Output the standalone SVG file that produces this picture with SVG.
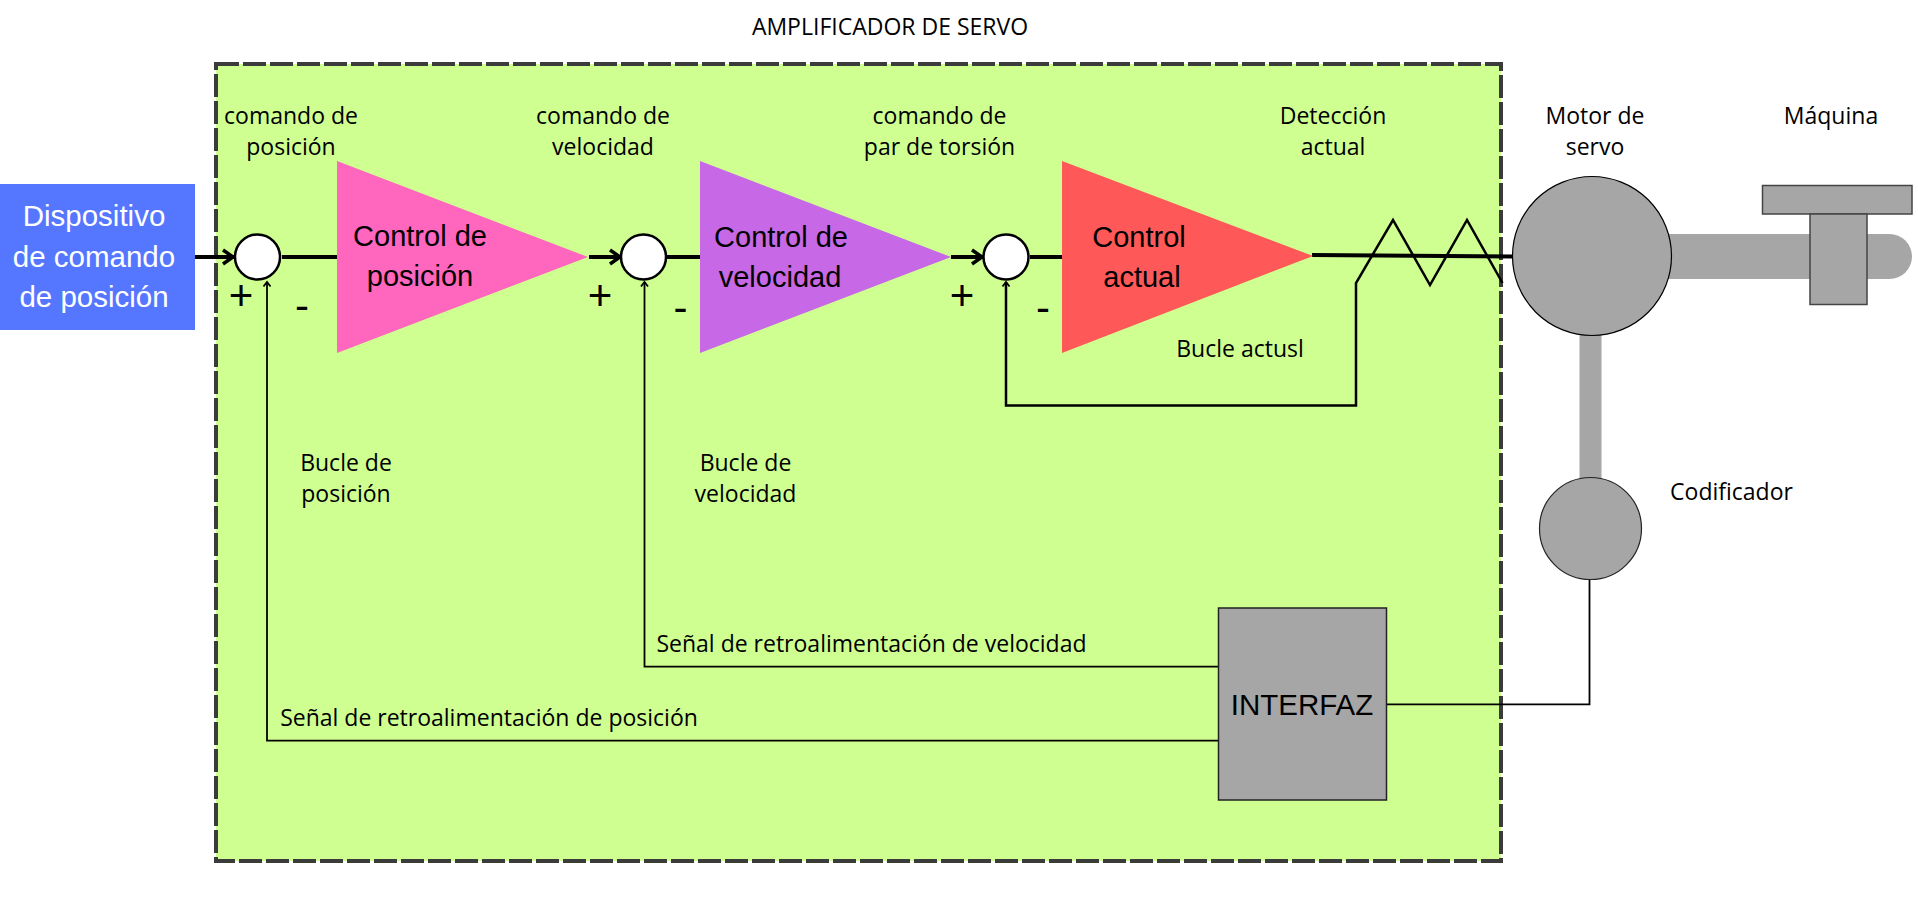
<svg xmlns="http://www.w3.org/2000/svg" width="1918" height="907" viewBox="0 0 1918 907">
<defs>
<style>
text{font-family:"Open Sans","Noto Sans",sans-serif;font-size:23px;fill:#000;text-anchor:middle}
.a{font-family:"Liberation Sans",Arial,sans-serif;font-size:29px}
.w{font-family:"Liberation Sans",Arial,sans-serif;font-size:29.500px;fill:#fff}
.i{font-family:"Liberation Sans",Arial,sans-serif;font-size:29.500px}
.s{font-family:"Liberation Sans",Arial,sans-serif;font-size:42px}
.thick{fill:none;stroke:#000;stroke-width:4}
.thin{fill:none;stroke:#000;stroke-width:1.800}
.gray{fill:#a6a6a6}
.sum{fill:#fff;stroke:#000;stroke-width:2.500}
</style>
<marker id="big" markerUnits="userSpaceOnUse" markerWidth="16" markerHeight="20" refX="14" refY="10" orient="auto"><path d="M3 3L13 10L3 17" fill="none" stroke="#000" stroke-width="3.500"/></marker>
<marker id="small" markerUnits="userSpaceOnUse" markerWidth="10" markerHeight="10" refX="8" refY="5" orient="auto"><path d="M3.500 1.500L8 5L3.500 8.500" fill="none" stroke="#000" stroke-width="1.800"/></marker>
</defs>
<g id="amplifier"><rect x="216" y="64" width="1285" height="797" fill="#cfff91" stroke="#3b3b3b" stroke-width="4" stroke-dasharray="23 4"/><text x="890" y="35">AMPLIFICADOR DE SERVO</text></g>
<g id="mechanics">
<path class="gray" d="M1650 234H1889.500A22.500 22.500 0 0 1 1889.500 279H1650Z"/>
<rect class="gray" x="1579.500" y="320" width="22" height="165"/>
</g>
<g id="connectors">
<path class="thick" d="M195 257H234" marker-end="url(#big)"/>
<path class="thick" d="M282 257H337"/>
<path class="thick" d="M589 257H621" marker-end="url(#big)"/>
<path class="thick" d="M667 257H700"/>
<path class="thick" d="M951 257H983" marker-end="url(#big)"/>
<path class="thick" d="M1030 257H1062"/>
<path class="thick" d="M1312 255L1513 256.500"/>
<path fill="none" stroke="#000" stroke-width="2.500" d="M1502.500 283L1467 220L1430 285L1393 220L1356 283V405.500H1006V282" marker-end="url(#small)"/>
<path class="thin" d="M1218 666.700H644.500V282" marker-end="url(#small)"/>
<path class="thin" d="M1218 740.700H267V282" marker-end="url(#small)"/>
<path class="thin" d="M1386 704.300H1589.500V575"/>
</g>
<g id="position-device"><rect x="0" y="184" width="195" height="146" fill="#5577ff"/><text class="w" x="94" y="226">Dispositivo</text><text class="w" x="94" y="267">de comando</text><text class="w" x="94" y="307">de posición</text></g>
<g id="sum-position"><circle class="sum" cx="257.500" cy="257" r="22.500"/><text class="s" x="241" y="310">+</text><text class="s" x="302" y="320">-</text></g>
<g id="sum-velocity"><circle class="sum" cx="643.500" cy="257" r="22.500"/><text class="s" x="600" y="310">+</text><text class="s" x="680.500" y="322">-</text></g>
<g id="sum-current"><circle class="sum" cx="1006" cy="257" r="22.500"/><text class="s" x="962" y="310">+</text><text class="s" x="1043" y="322">-</text></g>
<g id="position-control"><path d="M337 161L588 257L337 353Z" fill="#ff66be"/><text class="a" x="420" y="246">Control de</text><text class="a" x="420" y="286">posición</text></g>
<g id="velocity-control"><path d="M700 161L951 257L700 353Z" fill="#c768e6"/><text class="a" x="781" y="247">Control de</text><text class="a" x="780" y="287">velocidad</text></g>
<g id="current-control"><path d="M1062 161L1313 256L1062 353Z" fill="#ff5858"/><text class="a" x="1139" y="247">Control</text><text class="a" x="1142" y="287">actual</text></g>
<g id="motor"><circle cx="1592" cy="256" r="79.500" fill="#a6a6a6" stroke="#000" stroke-width="1.200"/><text x="1595" y="124">Motor de</text><text x="1595" y="155">servo</text></g>
<g id="machine"><rect x="1762.500" y="185.500" width="149.500" height="28.500" fill="#a6a6a6" stroke="#444" stroke-width="1.500"/><rect x="1810" y="214" width="57" height="90.500" fill="#a6a6a6" stroke="#444" stroke-width="1.500"/><text x="1831" y="124">Máquina</text></g>
<g id="encoder"><circle cx="1590.500" cy="528.500" r="51" fill="#a6a6a6" stroke="#222" stroke-width="1.200"/><text x="1731.500" y="499.500">Codificador</text></g>
<g id="interface"><rect x="1218.500" y="608" width="168" height="192" fill="#a6a6a6" stroke="#222" stroke-width="1.500"/><text class="i" x="1302" y="715">INTERFAZ</text></g>
<g id="labels">
<text x="291" y="123.500">comando de</text><text x="291" y="154.500">posición</text>
<text x="603" y="123.500">comando de</text><text x="603" y="154.500">velocidad</text>
<text x="939.500" y="123.500">comando de</text><text x="939.500" y="154.500">par de torsión</text>
<text x="1333" y="123.500">Detección</text><text x="1333" y="154.500">actual</text>
<text x="346" y="470.500">Bucle de</text><text x="346" y="501.500">posición</text>
<text x="745.500" y="470.500">Bucle de</text><text x="745.500" y="501.500">velocidad</text>
<text x="1240" y="357">Bucle actusl</text>
<text x="871.500" y="652">Señal de retroalimentación de velocidad</text>
<text x="489" y="726">Señal de retroalimentación de posición</text>
</g>
</svg>
